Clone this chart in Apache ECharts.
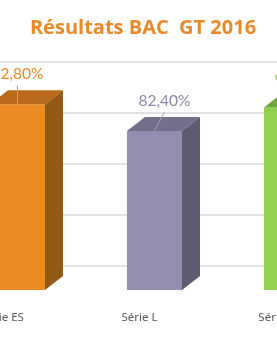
<!DOCTYPE html>
<html><head><meta charset="utf-8">
<script src="https://cdn.jsdelivr.net/npm/echarts@6/dist/echarts.min.js"></script>
<style>html,body{margin:0;padding:0;background:#fff}#c{width:277px;height:337px}</style>
</head><body><div id="c"></div>
<script>
const categories = ['Série ES', 'Série L', 'Série S'];
const values = [92.8, 82.4, 91.6];
const valueLabels = ['92,80%', '82,40%', '91,60%'];
const yMin = 20, yMax = 100, yStep = 20;
const titleText = 'Résultats BAC  GT 2016';

const faceColors = [
  {front: '#EB8C22', top: '#B9691B', side: '#935A14', label: '#E98A25'},
  {front: '#928FAE', top: '#716F89', side: '#5D5B71', label: '#8B89A7'},
  {front: '#92D050', top: '#6FA73B', side: '#5E8C30', label: '#8CCB4C'}
];
const labelOffsets = [[0, -30], [10, -30], [9, -27]];
const BAR_W = 55, DX = 18, DY = -14;

const chart = echarts.init(document.getElementById('c'), null, {renderer: 'canvas'});
chart.setOption({
  animation: false,
  backgroundColor: '#fff',
  title: {
    text: titleText, left: 138, textAlign: 'center', top: 13.5,
    textStyle: {fontFamily: 'Open Sans', fontWeight: 'bold', fontSize: 20, color: '#E8892A'}
  },
  grid: [
    {left: 0, right: 0, top: 62, height: 204, outerBoundsMode: 'none', containLabel: false},
    {left: -51, width: 411, top: 86, height: 204, outerBoundsMode: 'none', containLabel: false}
  ],
  xAxis: [
    {gridIndex: 0, type: 'category', data: categories, show: false},
    {gridIndex: 1, type: 'category', data: categories,
     axisLine: {show: false}, axisTick: {show: false},
     axisLabel: {margin: 22, fontFamily: 'Noto Sans', fontSize: 11.5, color: '#595959', padding: [0, 30, 0, 0]}}
  ],
  yAxis: [
    {gridIndex: 0, type: 'value', min: yMin, max: yMax, interval: yStep,
     axisLabel: {show: false}, axisLine: {show: false}, axisTick: {show: false},
     splitLine: {lineStyle: {color: '#E2E2E2', width: 2}}},
    {gridIndex: 1, type: 'value', min: yMin, max: yMax, interval: yStep, show: false,
     splitLine: {show: false}}
  ],
  series: [{
    type: 'custom',
    xAxisIndex: 1, yAxisIndex: 1,
    data: values.map((v, i) => [i, v]),
    renderItem: function (params, api) {
      const i = api.value(0), v = api.value(1);
      const top = api.coord([i, v]);
      const base = api.coord([i, yMin]);
      const x0 = top[0] - BAR_W / 2, x1 = top[0] + BAR_W / 2;
      const yT = top[1], yB = base[1];
      const c = faceColors[i];
      const off = labelOffsets[i];
      const lx = top[0] + off[0], ly = yT + off[1];
      return {
        type: 'group',
        children: [
          {type: 'rect', shape: {x: x0, y: yT, width: BAR_W, height: yB - yT}, style: {fill: c.front}},
          {type: 'polygon', shape: {points: [[x0, yT], [x1, yT], [x1 + DX, yT + DY], [x0 + DX, yT + DY]]}, style: {fill: c.top}},
          {type: 'polygon', shape: {points: [[x1, yT], [x1 + DX, yT + DY], [x1 + DX, yB + DY], [x1, yB]]}, style: {fill: c.side}},
          {type: 'line', shape: {x1: lx, y1: ly + 11, x2: top[0], y2: yT}, style: {stroke: '#A6A6A6', lineWidth: 1}},
          {type: 'text', x: lx, y: ly, style: {text: valueLabels[i], fill: c.label, font: '15.5px Lato', align: 'center', verticalAlign: 'middle'}}
        ]
      };
    }
  }]
});
</script></body></html>
